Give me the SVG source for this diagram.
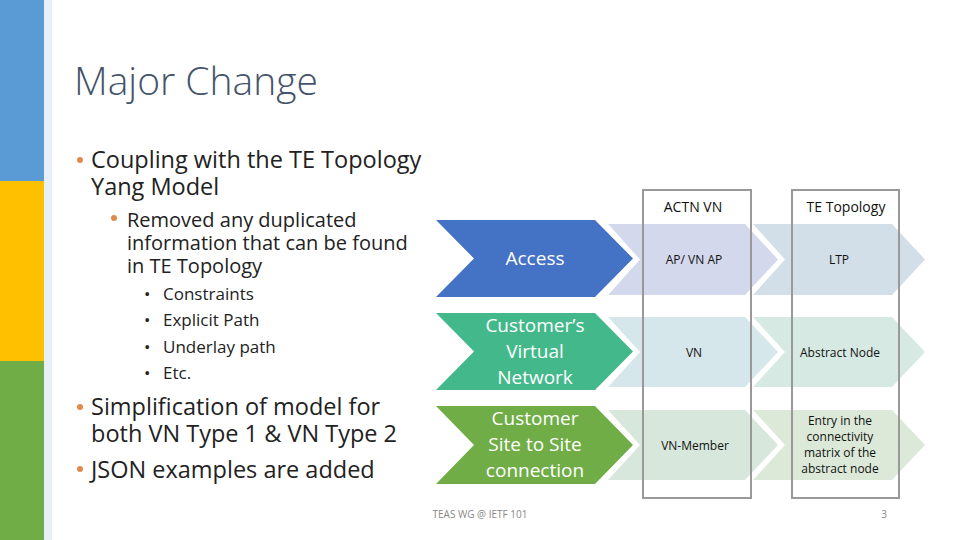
<svg xmlns="http://www.w3.org/2000/svg" width="960" height="540" viewBox="0 0 960 540">
<style>
text{font-family:"Open Sans","Liberation Sans",sans-serif}
.b{font-size:23.5px;fill:#222}
.s{font-size:20px;fill:#222}
.t{font-size:17px;fill:#222}
.w{font-size:19px;fill:#fff;text-anchor:middle}
.c{font-size:12px;fill:#111;text-anchor:middle}
.dot{fill:#e08a4a}
.box{fill:none;stroke:#999;stroke-width:2}
</style>
<rect width="960" height="540" fill="#fff"/>
<rect x="0" y="0" width="44" height="181" fill="#5b9bd5"/>
<rect x="0" y="181" width="44" height="180" fill="#ffc000"/>
<rect x="0" y="361" width="44" height="179" fill="#70ad47"/>
<rect x="44" y="0" width="8" height="540" fill="#cfe0ef" opacity="0.5"/>
<text x="74" y="95" style="font-size:39px;fill:#44546a;font-weight:300">Major Change</text>
<g id="bullets">
<circle class="dot" cx="80" cy="160" r="3"/>
<text class="b" x="91" y="168">Coupling with the TE Topology</text>
<text class="b" x="91" y="195">Yang Model</text>
<circle class="dot" cx="114" cy="218" r="3"/>
<text class="s" x="127" y="227">Removed any duplicated</text>
<text class="s" x="127" y="250">information that can be found</text>
<text class="s" x="127" y="273">in TE Topology</text>
<text class="t" x="144" y="300">•</text><text class="t" x="163" y="300">Constraints</text>
<text class="t" x="144" y="326">•</text><text class="t" x="163" y="326">Explicit Path</text>
<text class="t" x="144" y="353">•</text><text class="t" x="163" y="353">Underlay path</text>
<text class="t" x="144" y="379">•</text><text class="t" x="163" y="379">Etc.</text>
<circle class="dot" cx="80" cy="407" r="3"/>
<text class="b" x="91" y="415">Simplification of model for</text>
<text class="b" x="91" y="442">both VN Type 1 &amp; VN Type 2</text>
<circle class="dot" cx="80" cy="469" r="3"/>
<text class="b" x="91" y="478">JSON examples are added</text>
</g>
<g id="light">
<polygon points="608,224 745,224 778,259.5 745,295 608,295 640,259.5" fill="#d4d8ec"/>
<polygon points="753,224 892,224 925,259.5 892,295 753,295 785,259.5" fill="#d3dfe8"/>
<polygon points="608,317 745,317 778,352 745,387 608,387 640,352" fill="#d5e7ea"/>
<polygon points="753,317 892,317 925,352 892,387 753,387 785,352" fill="#d6e9e3"/>
<polygon points="608,410 745,410 778,445 745,480 608,480 640,445" fill="#d7e7dc"/>
<polygon points="753,410 892,410 925,445 892,480 753,480 785,445" fill="#dce9d8"/>
</g>
<g id="access"><polygon points="436,220 595,220 633,258.5 595,297 436,297 474,258.5" fill="#4472c4"/><text class="w" x="535" y="265">Access</text></g>
<g id="cvn"><polygon points="436,313 595,313 633,351.5 595,390 436,390 474,351.5" fill="#43b98b"/><text class="w" x="535" y="332">Customer’s</text><text class="w" x="535" y="358">Virtual</text><text class="w" x="535" y="384">Network</text></g>
<g id="site"><polygon points="436,406 595,406 633,445 595,484 436,484 474,445" fill="#70ad47"/><text class="w" x="535" y="425">Customer</text><text class="w" x="535" y="451">Site to Site</text><text class="w" x="535" y="477">connection</text></g>
<g id="actn"><rect class="box" x="643" y="190" width="108" height="308"/><text x="693" y="212" style="font-size:14px;fill:#111;text-anchor:middle">ACTN VN</text>
<text class="c" x="694" y="264">AP/ VN AP</text><text class="c" x="694" y="357">VN</text><text class="c" x="695" y="450">VN-Member</text></g>
<g id="te"><rect class="box" x="792" y="190" width="107" height="308"/><text x="846" y="212" style="font-size:14px;fill:#111;text-anchor:middle">TE Topology</text>
<text class="c" x="839" y="264">LTP</text><text class="c" x="840" y="357">Abstract Node</text>
<text class="c" x="840" y="425">Entry in the</text><text class="c" x="840" y="441">connectivity</text><text class="c" x="840" y="457">matrix of the</text><text class="c" x="840" y="473">abstract node</text></g>
<text x="480" y="518" style="font-size:10px;fill:#888;text-anchor:middle">TEAS WG @ IETF 101</text>
<text x="884" y="518" style="font-size:10px;fill:#888;text-anchor:middle">3</text>
</svg>
